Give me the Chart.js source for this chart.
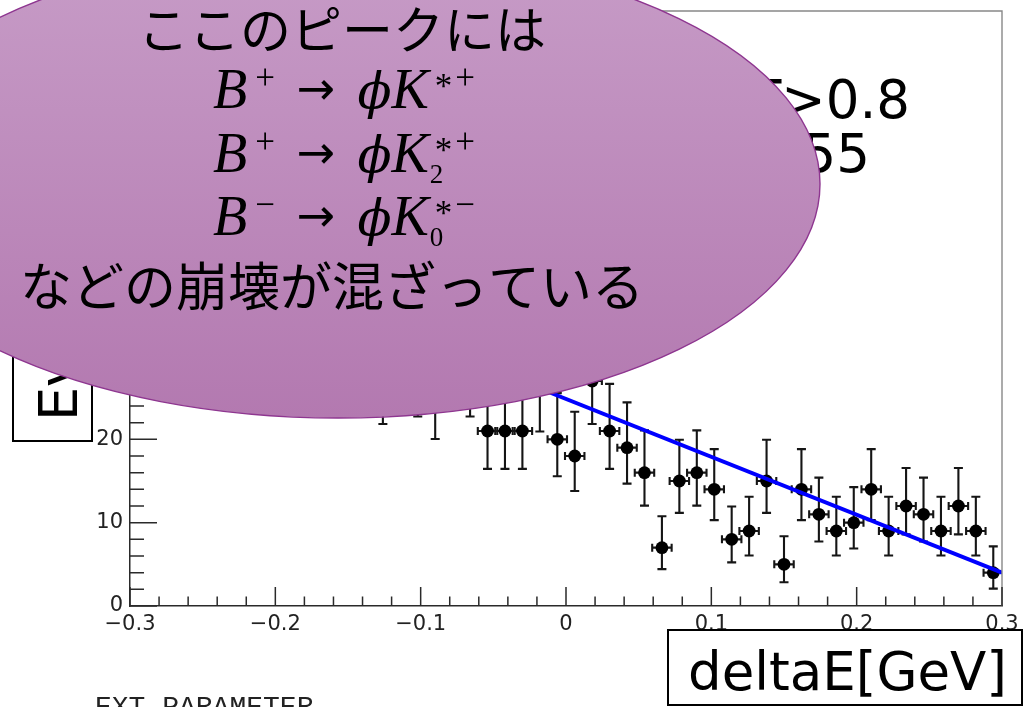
<!DOCTYPE html>
<html lang="ja">
<head>
<meta charset="UTF-8">
<title>deltaE</title>
<script src="https://cdn.jsdelivr.net/npm/chart.js"></script>
<style>
  html, body { margin: 0; padding: 0; background: #fff; }
  .wrap { position: relative; width: 1024px; height: 707px; }
</style>
</head>
<body>
<div class="wrap"><canvas id="deltaE"></canvas></div>
<script>
// deltaE histogram, 50 bins of 12 MeV between -0.3 and 0.3 GeV
const binWidth = 0.012;
const binCenters = [
  -0.294, -0.282, -0.270, -0.258, -0.246, -0.234, -0.222, -0.210, -0.198, -0.186,
  -0.174, -0.162, -0.150, -0.138, -0.126, -0.114, -0.102, -0.090, -0.078, -0.066,
  -0.054, -0.042, -0.030, -0.018, -0.006, 0.006, 0.018, 0.030, 0.042, 0.054,
  0.066, 0.078, 0.090, 0.102, 0.114, 0.126, 0.138, 0.150, 0.162, 0.174,
  0.186, 0.198, 0.210, 0.222, 0.234, 0.246, 0.258, 0.270, 0.282, 0.294
];
const counts = [
  40, 44, 38, 46, 42, 49, 53, 50, 57, 60,
  54, 51, 43, 37, 27, 33, 28, 25, 31, 28,
  21, 21, 21, 26, 20, 18, 27, 21, 19, 16,
  7, 15, 16, 14, 8, 9, 15, 5, 14, 11,
  9, 10, 14, 9, 12, 11, 9, 12, 9, 4
];

// straight-line fit drawn over the full range
const fitX = [-0.3, 0.3];
const fitY = [45.7, 4.0];

// axis ticks and labels
const xTickValues = [-0.3, -0.2, -0.1, 0, 0.1, 0.2, 0.3];
const xTickLabels = ['\u22120.3', '\u22120.2', '\u22120.1', '0', '0.1', '0.2', '0.3'];
const yTickValues = [0, 10, 20, 30, 40, 50, 60, 70];
const yTickLabels = ['0', '10', '20', '30', '40', '50', '60', '70'];
const yMax = 71.4;

// 68% Poisson interval (Wilson-Hilferty form of the Garwood bounds)
function poissonBand(n) {
  const lo = n * Math.pow(1 - 1 / (9 * n) - 1 / (3 * Math.sqrt(n)), 3);
  const m = n + 1;
  const hi = m * Math.pow(1 - 1 / (9 * m) + 1 / (3 * Math.sqrt(m)), 3);
  return [lo, hi];
}

const errorBars = {
  id: 'errorBars',
  beforeDatasetsDraw(chart) {
    const { ctx, chartArea: a } = chart;
    const x = chart.scales.x, y = chart.scales.y;
    ctx.save();
    ctx.beginPath();
    ctx.rect(a.left, a.top, a.width, a.height);
    ctx.clip();
    ctx.strokeStyle = '#151515';
    ctx.lineWidth = 2.1;
    binCenters.forEach((c, i) => {
      const n = counts[i];
      const [lo, hi] = poissonBand(n);
      const px = x.getPixelForValue(c), py = y.getPixelForValue(n);
      const pLo = y.getPixelForValue(lo), pHi = y.getPixelForValue(hi);
      const xl = x.getPixelForValue(c - binWidth / 2), xr = x.getPixelForValue(c + binWidth / 2);
      ctx.beginPath();
      ctx.moveTo(px, pHi); ctx.lineTo(px, pLo);
      ctx.moveTo(px - 4.5, pHi); ctx.lineTo(px + 4.5, pHi);
      ctx.moveTo(px - 4.5, pLo); ctx.lineTo(px + 4.5, pLo);
      ctx.moveTo(xl - 1, py); ctx.lineTo(xr + 1, py);
      ctx.moveTo(xl - 1, py - 4); ctx.lineTo(xl - 1, py + 4);
      ctx.moveTo(xr + 1, py - 4); ctx.lineTo(xr + 1, py + 4);
      ctx.stroke();
    });
    ctx.restore();
  }
};

// decay formula: pieces drawn left to right, "keep" pieces do not advance
function drawFormula(ctx, pieces, cx, base) {
  let w = 0;
  pieces.forEach(p => {
    ctx.font = p.f;
    if (!p.keep) w += ctx.measureText(p.t).width + (p.padL || 0) + (p.padR || 0);
  });
  let xpos = cx - w / 2;
  ctx.textAlign = 'left';
  ctx.textBaseline = 'alphabetic';
  pieces.forEach(p => {
    ctx.font = p.f;
    const x0 = xpos + (p.padL || 0);
    ctx.fillText(p.t, x0, base + (p.dy || 0));
    if (!p.keep) xpos = x0 + ctx.measureText(p.t).width + (p.padR || 0);
  });
}

const serif = "'Liberation Serif', 'DejaVu Serif', serif";
const fIt = 'italic 56px ' + serif;
const fArrow = "46px 'DejaVu Sans', sans-serif";
const fSup = '35px ' + serif;
const fSub = '27px ' + serif;
const fPhi = "italic 50px 'DejaVu Serif', serif";

function decay(sign, kSub) {
  const parts = [
    { t: 'B', f: fIt },
    { t: sign, f: fSup, dy: -19, padL: 8 },
    { t: '\u2192', f: fArrow, padL: 22, padR: 22, dy: -4 },
    { t: '\u03d5', f: fPhi },
    { t: 'K', f: fIt }
  ];
  if (kSub) parts.push({ t: kSub, f: fSub, dy: 11, keep: true, padL: 1 });
  parts.push({ t: '*', f: fSup, dy: -10, padL: 6 });
  parts.push({ t: sign, f: fSup, dy: -19, padL: 3 });
  return parts;
}

const slideOverlay = {
  id: 'slideOverlay',
  afterDraw(chart) {
    const { ctx, chartArea: a } = chart;
    const x = chart.scales.x, y = chart.scales.y;
    ctx.save();

    // frame top and right
    ctx.strokeStyle = '#888';
    ctx.lineWidth = 1.4;
    ctx.beginPath();
    ctx.moveTo(a.left, a.top); ctx.lineTo(a.right, a.top); ctx.lineTo(a.right, a.bottom);
    ctx.stroke();

    // inward ticks, ROOT style
    ctx.strokeStyle = '#2a2a2a';
    ctx.lineWidth = 1.5;
    ctx.beginPath();
    for (let k = 0; k <= 30; k++) {
      const v = -0.3 + k * 0.02;
      const px = x.getPixelForValue(v);
      const len = k % 5 === 0 ? 19 : 9.5;
      ctx.moveTo(px, a.bottom); ctx.lineTo(px, a.bottom - len);
    }
    for (let v = 0; v <= 70; v += 2) {
      const py = y.getPixelForValue(v);
      const len = v % 10 === 0 ? 27 : 14;
      ctx.moveTo(a.left, py); ctx.lineTo(a.left + len, py);
    }
    ctx.stroke();

    // cut text partly hidden behind the balloon
    ctx.fillStyle = '#000';
    ctx.font = "53px 'DejaVu Sans', sans-serif";
    ctx.textAlign = 'right';
    ctx.textBaseline = 'alphabetic';
    ctx.fillText('cos\u03b8T>0.8', 910, 118);
    ctx.fillText('R2<0.55', 870, 172);

    // y axis title box
    ctx.fillStyle = '#fff';
    ctx.fillRect(13, 150, 79, 291);
    ctx.strokeStyle = '#000';
    ctx.lineWidth = 2;
    ctx.strokeRect(13, 150, 79, 291);
    ctx.save();
    ctx.translate(77, 421);
    ctx.rotate(-Math.PI / 2);
    ctx.fillStyle = '#000';
    ctx.font = "54px 'DejaVu Sans', sans-serif";
    ctx.textAlign = 'left';
    ctx.fillText('Events', 0, 0);
    ctx.restore();

    // x axis title box
    ctx.fillStyle = '#fff';
    ctx.fillRect(668, 630, 354, 75);
    ctx.strokeStyle = '#000';
    ctx.lineWidth = 2;
    ctx.strokeRect(668, 630, 354, 75);
    ctx.fillStyle = '#000';
    ctx.font = "53px 'DejaVu Sans', sans-serif";
    ctx.textAlign = 'left';
    ctx.fillText('deltaE[GeV]', 688, 690);

    // fit printout below the canvas
    ctx.fillStyle = '#222';
    ctx.font = "28px 'Liberation Mono', monospace";
    ctx.fillText('EXT PARAMETER', 95, 715);

    // balloon
    const g = ctx.createLinearGradient(0, -50, 0, 418);
    g.addColorStop(0, '#c79cc7');
    g.addColorStop(1, '#b379b0');
    ctx.beginPath();
    ctx.ellipse(338, 184, 482, 234, 0, 0, Math.PI * 2);
    ctx.fillStyle = g;
    ctx.fill();
    ctx.strokeStyle = '#8e3690';
    ctx.lineWidth = 1.4;
    ctx.stroke();

    ctx.fillStyle = '#000';
    ctx.font = "51px 'Noto Sans CJK JP', sans-serif";
    ctx.textAlign = 'center';
    ctx.textBaseline = 'middle';
    ctx.fillText('ここのピークには', 342, 30);
    ctx.font = "52px 'Noto Sans CJK JP', sans-serif";
    ctx.fillText('などの崩壊が混ざっている', 332, 286);

    drawFormula(ctx, decay('+', null), 344, 108);
    drawFormula(ctx, decay('+', '2'), 344, 172);
    drawFormula(ctx, decay('\u2212', '0'), 344, 235);

    ctx.restore();
  }
};

const tickFont = { family: "'DejaVu Sans', sans-serif", size: 21 };

new Chart(document.getElementById('deltaE'), {
  type: 'scatter',
  data: {
    datasets: [
      {
        type: 'line',
        data: fitX.map((v, i) => ({ x: v, y: fitY[i] })),
        borderColor: '#0000ff',
        borderWidth: 3.8,
        pointRadius: 0,
        fill: false
      },
      {
        data: binCenters.map((v, i) => ({ x: v, y: counts[i] })),
        backgroundColor: '#000',
        borderWidth: 0,
        pointRadius: 6.4
      }
    ]
  },
  options: {
    animation: false,
    responsive: true,
    maintainAspectRatio: false,
    layout: { padding: { top: 11, right: 22, left: 0, bottom: 0 } },
    plugins: { legend: { display: false }, tooltip: { enabled: false } },
    scales: {
      x: {
        type: 'linear',
        min: -0.3,
        max: 0.3,
        grid: { display: false, drawTicks: false },
        border: { display: true, color: '#2a2a2a', width: 1.5 },
        ticks: {
          font: tickFont,
          color: '#222',
          padding: 6,
          maxRotation: 0,
          autoSkip: false,
          callback: (v, i) => xTickLabels[i]
        },
        afterBuildTicks: s => { s.ticks = xTickValues.map(v => ({ value: v })); },
        afterFit: s => {
          s.height = 101;
          s.paddingLeft = 0; s.paddingRight = 0;
        }
      },
      y: {
        min: 0,
        max: yMax,
        grid: { display: false, drawTicks: false },
        border: { display: true, color: '#2a2a2a', width: 1.5 },
        ticks: {
          font: tickFont,
          color: '#222',
          padding: 7,
          autoSkip: false,
          callback: (v, i) => yTickLabels[i]
        },
        afterBuildTicks: s => { s.ticks = yTickValues.map(v => ({ value: v })); },
        afterFit: s => {
          s.width = 130;
          s.paddingTop = 0; s.paddingBottom = 0;
        }
      }
    }
  },
  plugins: [errorBars, slideOverlay]
});
</script>
</body>
</html>
